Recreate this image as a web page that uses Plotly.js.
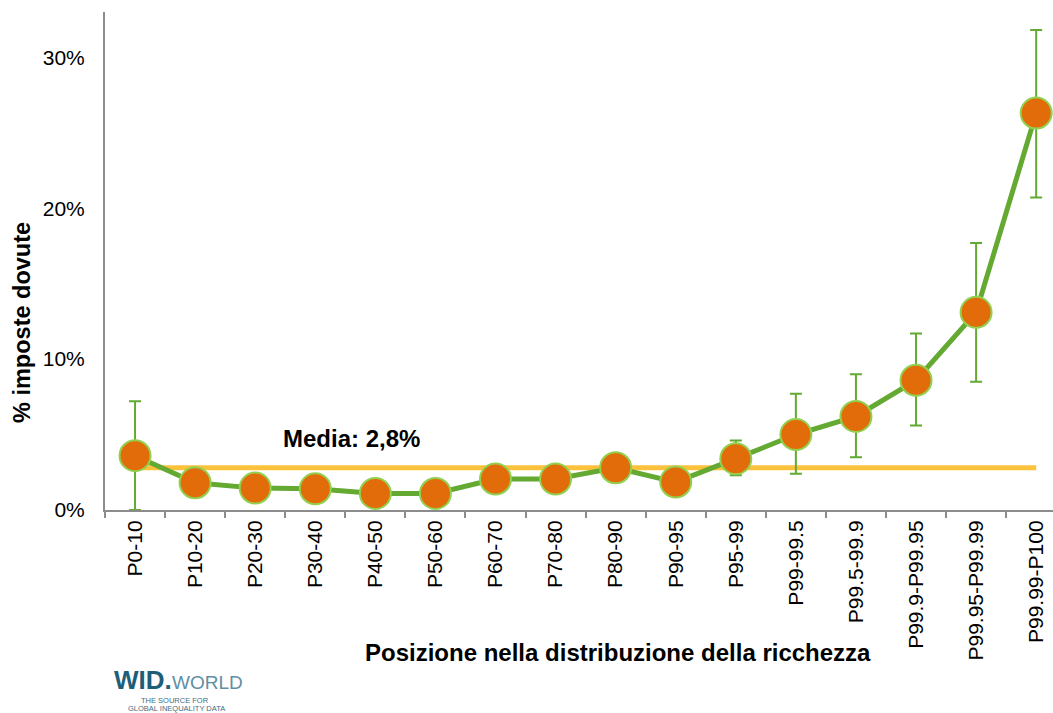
<!DOCTYPE html>
<html>
<head>
<meta charset="utf-8">
<script src="https://cdn.plot.ly/plotly-3.0.1.min.js"></script>
<style>html,body{margin:0;padding:0;background:#fff;}#chart{width:1053px;height:713px;}</style>
</head>
<body>
<div id="chart"></div>
<script>
// ---- data ----
const categories = ["P0-10","P10-20","P20-30","P30-40","P40-50","P50-60","P60-70","P70-80","P80-90","P90-95","P95-99","P99-99.5","P99.5-99.9","P99.9-P99.95","P99.95-P99.99","P99.99-P100"];
const taxShare = [3.6, 1.8, 1.45, 1.4, 1.1, 1.1, 2.05, 2.05, 2.8, 1.85, 3.4, 5.0, 6.2, 8.6, 13.1, 26.3];
const errPlus  = [3.6, null, null, null, null, null, null, null, null, null, 1.2, 2.7, 2.8, 3.1, 4.6, 5.5];
const errMinus = [3.6, null, null, null, null, null, null, null, null, null, 1.1, 2.6, 2.7, 3.0, 4.6, 5.6];
const mediaValue = 2.8;
const yTickVals = [0, 10, 20, 30];
const yTickText = ["0%", "10%", "20%", "30%"];

// ---- layout helpers ----
const FIG_W = 1053, FIG_H = 713;
const M = {l: 105, r: 0, t: 12, b: 203};
const PW = FIG_W - M.l - M.r, PH = FIG_H - M.t - M.b;
const px = v => (v - M.l) / PW;
const py = v => (FIG_H - M.b - v) / PH;
const FONT = "Liberation Sans, Arial, sans-serif";

const mediaTrace = {
  x: categories,
  y: categories.map(() => mediaValue),
  type: "scatter",
  mode: "lines",
  line: {color: "#FDC23C", width: 5},
  hoverinfo: "skip",
  showlegend: false
};

const mainTrace = {
  x: categories,
  y: taxShare,
  type: "scatter",
  mode: "lines+markers",
  line: {color: "#63A932", width: 5},
  marker: {size: 31, color: "#E36C0A", line: {color: "#92D050", width: 2}},
  error_y: {type: "data", symmetric: false, array: errPlus, arrayminus: errMinus, color: "#63A932", thickness: 2, width: 6},
  cliponaxis: false,
  showlegend: false
};

const mediaLabel = "Media: " + String(mediaValue).replace(".", ",") + "%";

const layout = {
  width: FIG_W, height: FIG_H,
  margin: M,
  paper_bgcolor: "#fff", plot_bgcolor: "#fff",
  showlegend: false,
  font: {family: FONT, color: "#000"},
  xaxis: {
    type: "category",
    range: [-0.5, 15.28],
    tickson: "boundaries",
    ticks: "outside", ticklen: 6, tickwidth: 2, tickcolor: "#8C8C8C",
    showline: true, linecolor: "#8C8C8C", linewidth: 2,
    showgrid: false, zeroline: false,
    tickangle: -90,
    tickfont: {family: FONT, size: 21, color: "#000"}
  },
  yaxis: {
    range: [0, 33],
    tickvals: yTickVals, ticktext: yTickText,
    ticks: "outside", ticklen: 14, tickcolor: "rgba(0,0,0,0)",
    showline: true, linecolor: "#8C8C8C", linewidth: 2,
    showgrid: false, zeroline: false,
    tickfont: {family: FONT, size: 21, color: "#000"}
  },
  annotations: [
    {text: "<b>" + mediaLabel + "</b>", xref: "x", yref: "y", x: 3.6, y: mediaValue, yshift: 29,
     showarrow: false, font: {family: FONT, size: 24, color: "#000"}, xanchor: "center", yanchor: "middle"},
    {text: "<b>% imposte dovute</b>", xref: "paper", yref: "paper", x: px(22), y: py(323), textangle: -90,
     showarrow: false, font: {family: FONT, size: 23.5, color: "#000"}, xanchor: "center", yanchor: "middle"},
    {text: "<b>Posizione nella distribuzione della ricchezza</b>", xref: "paper", yref: "paper", x: px(618), y: py(652),
     showarrow: false, font: {family: FONT, size: 24, color: "#000"}, xanchor: "center", yanchor: "middle"},
    {text: "<b>WID.</b>", xref: "paper", yref: "paper", x: px(112), y: py(680), showarrow: false,
     font: {family: FONT, size: 26, color: "#1D5E78"}, xanchor: "left", yanchor: "middle"},
    {text: "WORLD", xref: "paper", yref: "paper", x: px(170), y: py(683), showarrow: false,
     font: {family: FONT, size: 19, color: "#5F8FA4"}, xanchor: "left", yanchor: "middle"},
    {text: "THE SOURCE FOR", xref: "paper", yref: "paper", x: px(175), y: py(700), showarrow: false,
     font: {family: FONT, size: 7.5, color: "#3E6E82"}, xanchor: "center", yanchor: "middle"},
    {text: "GLOBAL INEQUALITY DATA", xref: "paper", yref: "paper", x: px(176), y: py(708), showarrow: false,
     font: {family: FONT, size: 7.5, color: "#3E6E82"}, xanchor: "center", yanchor: "middle"}
  ]
};

Plotly.newPlot("chart", [mediaTrace, mainTrace], layout, {displayModeBar: false, staticPlot: true});
</script>
</body>
</html>
